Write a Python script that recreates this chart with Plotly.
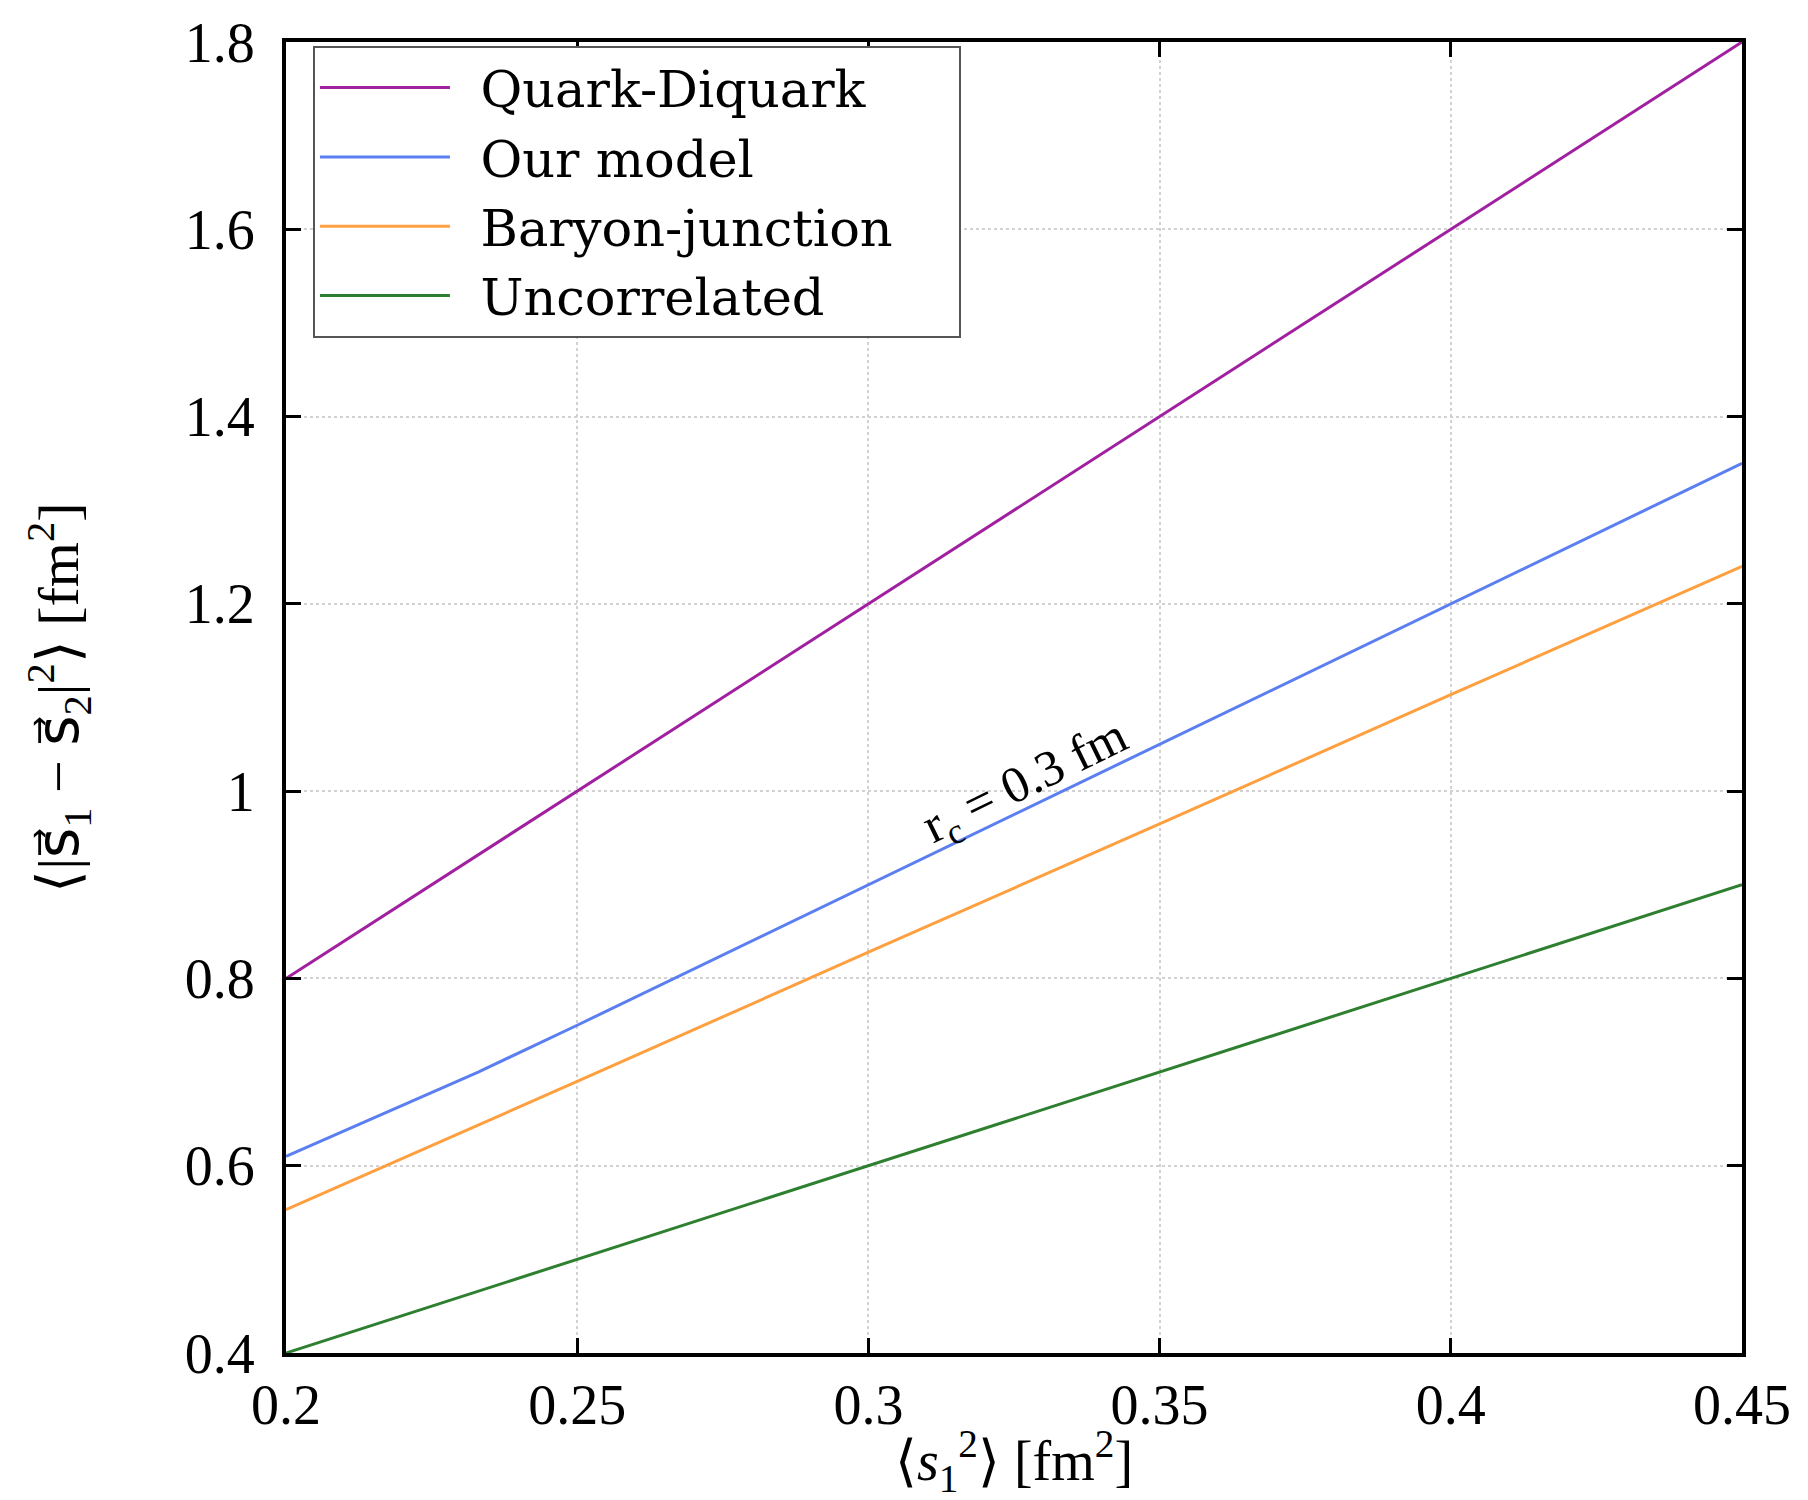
import plotly.graph_objects as go

# Mean squared radius of the first quark, <s1^2> [fm^2]
x_grid = [0.20, 0.25, 0.30, 0.35, 0.40, 0.45]

# Mean squared quark-quark separation for each picture of the nucleon
quark_diquark = [0.80, 1.00, 1.20, 1.40, 1.60, 1.80]
baryon_junction = [0.553, 0.690, 0.828, 0.965, 1.103, 1.240]
uncorrelated = [0.40, 0.50, 0.60, 0.70, 0.80, 0.90]

# Our model bends slightly at low <s1^2>
x_model = [0.20, 0.233, 0.25, 0.30, 0.35, 0.40, 0.45]
our_model = [0.610, 0.700, 0.750, 0.900, 1.050, 1.200, 1.350]

x_ticks = [0.2, 0.25, 0.3, 0.35, 0.4, 0.45]
x_tick_text = ["0.2", "0.25", "0.3", "0.35", "0.4", "0.45"]
y_ticks = [0.4, 0.6, 0.8, 1.0, 1.2, 1.4, 1.6, 1.8]
y_tick_text = ["0.4", "0.6", "0.8", "1", "1.2", "1.4", "1.6", "1.8"]

FONT = "Liberation Serif, Times New Roman, serif"
LEGEND_FONT = "DejaVu Serif, serif"

series = [
    ("Quark-Diquark", x_grid, quark_diquark, "#a020a0"),
    ("Our model", x_model, our_model, "#5b7ff0"),
    ("Baryon-junction", x_grid, baryon_junction, "#ffa040"),
    ("Uncorrelated", x_grid, uncorrelated, "#2e8030"),
]

# en-space padding keeps a gap between the legend sample line and the label,
# and some room on the right side of the legend box
LEAD = "\u2002"
TRAIL = "\u2002\u2002\u2009"

fig = go.Figure()
for name, xs, ys, color in series:
    fig.add_trace(go.Scatter(
        x=xs, y=ys, mode="lines", name=LEAD + name + TRAIL,
        line=dict(color=color, width=3),
    ))

fig.add_annotation(
    x=0.327, y=1.008, xref="x", yref="y",
    text="r<sub>c</sub> = 0.3 fm",
    textangle=-26, showarrow=False,
    font=dict(family=FONT, size=51, color="black"),
)

axis_common = dict(
    showline=True, linecolor="black", linewidth=4, mirror="ticks",
    ticks="inside", ticklen=15, tickwidth=3, tickcolor="black",
    showgrid=True, gridcolor="#d2d2d2", griddash="dot", gridwidth=1.5,
    zeroline=False,
    tickfont=dict(family=FONT, size=56, color="black"),
)

vec = '<span style="font-family:DejaVu Sans">s\u20d7</span>'
y_title = "\u27e8|" + vec + "<sub>1</sub> \u2212 " + vec + "<sub>2</sub>|<sup>2</sup>\u27e9 [fm<sup>2</sup>]"

fig.update_xaxes(
    range=[0.2, 0.45], tickvals=x_ticks, ticktext=x_tick_text,
    title=dict(text="\u27e8<i>s</i><sub>1</sub><sup>2</sup>\u27e9 [fm<sup>2</sup>]",
               font=dict(family=FONT, size=56, color="black"), standoff=10),
    **axis_common,
)
fig.update_yaxes(
    range=[0.4, 1.8], tickvals=y_ticks, ticktext=y_tick_text,
    ticklabelstandoff=16,
    title=dict(text=y_title,
               font=dict(family=FONT, size=58, color="black"), standoff=88),
    **axis_common,
)

fig.update_layout(
    width=1808, height=1500,
    margin=dict(l=286, r=66, t=37, b=147),
    paper_bgcolor="white", plot_bgcolor="white",
    showlegend=True,
    legend=dict(
        x=0.0185, y=0.997, xanchor="left", yanchor="top",
        bgcolor="white", bordercolor="#555555", borderwidth=2,
        font=dict(family=LEGEND_FONT, size=51, color="black"),
        itemwidth=130, tracegroupgap=0,
    ),
)

fig.write_html("out.html")
